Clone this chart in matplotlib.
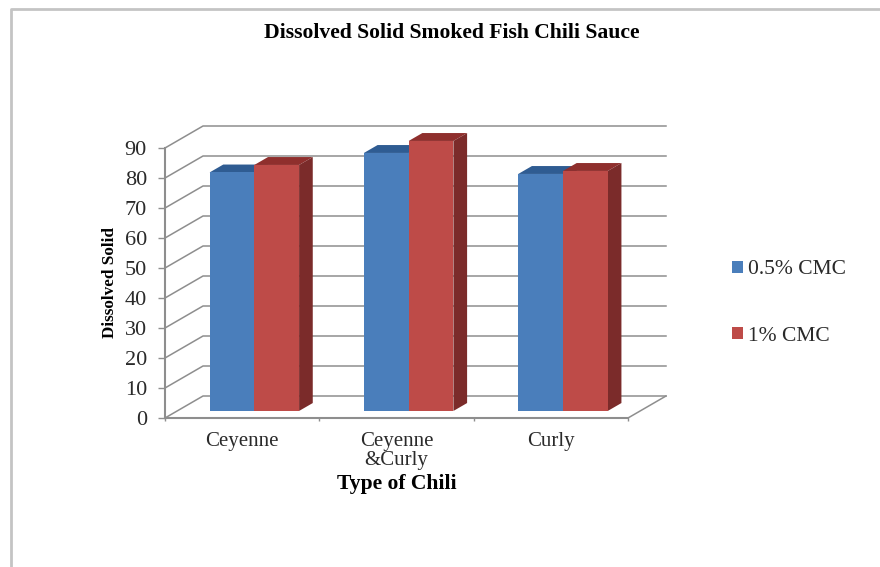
import matplotlib.pyplot as plt
from matplotlib.lines import Line2D
from matplotlib.patches import Patch, Polygon

plt.rcParams["font.family"] = ["Liberation Serif", "DejaVu Serif"]

# data
categories = ["Ceyenne", "Ceyenne\n&Curly", "Curly"]
cmc_05 = [79.5, 86, 79]
cmc_1 = [82, 90, 80]
y_ticks = [0, 10, 20, 30, 40, 50, 60, 70, 80, 90]
series_names = ["0.5% CMC", "1% CMC"]

BLUE = "#4a7ebb"
BLUE_TOP = "#2f5c92"
RED = "#be4b48"
RED_TOP = "#8f2f2d"
RED_SIDE = "#7b2b2a"
GRID = "#8e8e8e"
TEXT = "#2a2a2a"

W, H = 880, 567
# front plane of the fake 3d box, in pixels
X0, X1 = 165, 628
Y0, Y90 = 418, 148
# one full depth step of the box, in data units
DX = 38 / ((X1 - X0) / 3)
DY = 22 / ((Y0 - Y90) / 90)


def proj(x, v, d=0.0):
    # oblique projection, d = 0 front of the box, d = 1 back wall
    return x + d * DX, v + d * DY


fig = plt.figure(figsize=(W / 100, H / 100), dpi=100)
ax = fig.add_axes([X0 / W, 1 - Y0 / H, (X1 - X0) / W, (Y0 - Y90) / H])
ax.set_xlim(0, 3)
ax.set_ylim(0, 90)
ax.patch.set_alpha(0)

for s in ["top", "right"]:
    ax.spines[s].set_visible(False)
for s in ["left", "bottom"]:
    ax.spines[s].set_color(GRID)
    ax.spines[s].set_linewidth(1.5)

# walls and floor
for v in y_ticks:
    xs = [proj(0, v)[0], proj(0, v, 1)[0], proj(3, v, 1)[0]]
    ys = [proj(0, v)[1], proj(0, v, 1)[1], proj(3, v, 1)[1]]
    ax.add_line(Line2D(xs, ys, color=GRID, lw=1.1, clip_on=False, zorder=1))
xs, ys = zip(proj(3, 0), proj(3, 0, 1))
ax.add_line(Line2D(xs, ys, color=GRID, lw=1.1, clip_on=False, zorder=1))


def bar3d(x, w, v, face, top, side):
    d0, d1 = 0.32, 0.68
    front = [proj(x, 0, d0), proj(x + w, 0, d0), proj(x + w, v, d0), proj(x, v, d0)]
    roof = [proj(x, v, d0), proj(x + w, v, d0), proj(x + w, v, d1), proj(x, v, d1)]
    flank = [proj(x + w, 0, d0), proj(x + w, 0, d1), proj(x + w, v, d1), proj(x + w, v, d0)]
    ax.add_patch(Polygon(roof, fc=top, ec="none", clip_on=False, zorder=3))
    ax.add_patch(Polygon(flank, fc=side, ec="none", clip_on=False, zorder=3))
    ax.add_patch(Polygon(front, fc=face, ec="none", clip_on=False, zorder=4))


bar_w = 0.29
for i in range(len(categories)):
    c = i + 0.5
    bar3d(c - bar_w, bar_w, cmc_05[i], BLUE, BLUE_TOP, BLUE_TOP)
    bar3d(c, bar_w, cmc_1[i], RED, RED_TOP, RED_SIDE)

ax.set_yticks(y_ticks)
ax.set_xticks([0, 1, 2, 3])
ax.set_xticklabels([])
ax.tick_params(axis="x", which="major", color=GRID, length=2, width=1)
ax.tick_params(axis="y", color=GRID, length=5, width=1, labelsize=16, pad=8, labelcolor=TEXT)
ax.set_xticks([0.5, 1.5, 2.5], labels=categories, minor=True)
ax.tick_params(axis="x", which="minor", length=0, labelsize=15, pad=10, labelcolor=TEXT)
for t in ax.get_xticklabels(minor=True):
    t.set_linespacing(1.02)

ax.set_ylabel("Dissolved Solid", fontsize=12.3, fontweight="bold")
ax.yaxis.set_label_coords(-0.102, 0.503)
ax.set_xlabel("Type of Chili", fontsize=15.6, fontweight="bold")
ax.xaxis.set_label_coords(0.5, -0.207)

fig.text(451.5 / W, 1 - 33 / H, "Dissolved Solid Smoked Fish Chili Sauce",
         fontsize=15.6, fontweight="bold", ha="center", va="center")

handles = [Patch(fc=BLUE, ec="none"), Patch(fc=RED, ec="none")]
fig.legend(handles, series_names, loc="center left",
           bbox_to_anchor=(732 / W, 1 - 303 / H), frameon=False, fontsize=15.5,
           handlelength=0.5, handleheight=0.5, handletextpad=0.23, labelspacing=2.2,
           borderpad=0, borderaxespad=0, labelcolor=TEXT)

# frame of the original screenshot, only top and left show
fig.add_artist(Line2D([11 / W, 11 / W, 1], [0, 1 - 9 / H, 1 - 9 / H], color="#c4c4c4", lw=2))

fig.savefig("out.png", dpi=100)
